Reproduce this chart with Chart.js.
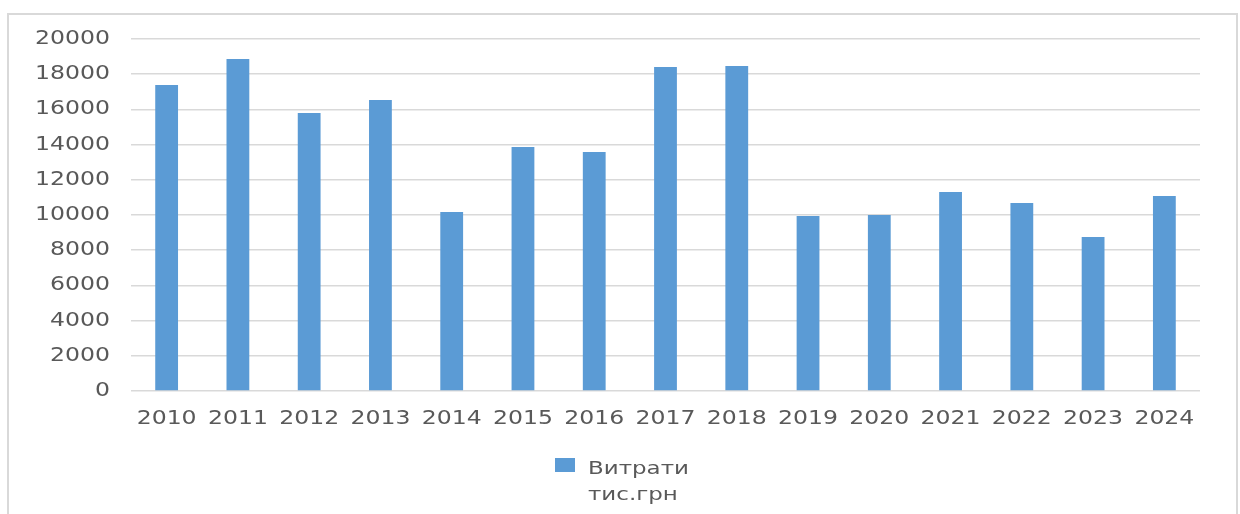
<!DOCTYPE html>
<html><head><meta charset="utf-8">
<script src="https://cdn.jsdelivr.net/npm/chart.js@4/dist/chart.umd.min.js"></script>
<style>html,body{margin:0;padding:0;background:#fff}#wrap{width:1240px;height:514px;position:relative}</style>
</head><body><div id="wrap"><canvas id="c" width="1240" height="514"></canvas></div>
<script>
const categories = ['2010','2011','2012','2013','2014','2015','2016','2017','2018','2019','2020','2021','2022','2023','2024'];
const expenses = [17390, 18860, 15800, 16530, 10170, 13860, 13580, 18410, 18470, 9940, 10000, 11310, 10680, 8750, 11080];
const legendLines = ['Витрати', 'тис.грн'];
const yTicks = [0, 2000, 4000, 6000, 8000, 10000, 12000, 14000, 16000, 18000, 20000];

const FONT = "'DejaVu Sans', sans-serif";
const STRETCH = 1.24;
const frameAndLegend = {
  id: 'frameAndLegend',
  beforeDraw(chart) {
    const ctx = chart.ctx;
    if (!ctx.__stretched) {
      const orig = ctx.fillText;
      ctx.fillText = function (t, x, y, mw) {
        this.save();
        this.translate(x, y);
        this.scale(STRETCH, 1);
        if (mw !== undefined) orig.call(this, t, 0, 0, mw / STRETCH); else orig.call(this, t, 0, 0);
        this.restore();
      };
      ctx.__stretched = true;
    }
    ctx.save();
    ctx.fillStyle = '#fff';
    ctx.fillRect(0, 0, chart.width, chart.height);
    ctx.strokeStyle = '#d9d9d9';
    ctx.lineWidth = 2;
    ctx.strokeRect(8, 14, 1229, 540);
    ctx.restore();
  },
  afterDraw(chart) {
    const ctx = chart.ctx;
    ctx.save();
    ctx.fillStyle = '#5b9bd5';
    ctx.fillRect(555, 458, 20, 14);
    ctx.fillStyle = '#595959';
    ctx.font = "18.5px " + FONT;
    ctx.textBaseline = 'alphabetic';
    ctx.textAlign = 'left';
    ctx.fillText(legendLines[0], 588, 474);
    ctx.fillText(legendLines[1], 588, 500);
    ctx.restore();
  }
};

new Chart(document.getElementById('c'), {
  type: 'bar',
  data: { labels: categories, datasets: [{ label: legendLines.join(' '), data: expenses, backgroundColor: '#5b9bd5', categoryPercentage: 1, barPercentage: 0.32 }] },
  options: {
    responsive: false, animation: false, devicePixelRatio: 1,
    layout: { padding: { left: 0, right: 40, top: 39, bottom: 0 } },
    plugins: { legend: { display: false }, tooltip: { enabled: false } },
    scales: {
      x: {
        grid: { display: false, drawTicks: false },
        border: { display: false },
        ticks: { color: '#595959', font: { family: FONT, size: 19 }, padding: 17, maxRotation: 0, autoSkip: false },
        afterFit(s) { s.height = 123; }
      },
      y: {
        min: 0, max: 20000,
        afterBuildTicks(s) { s.ticks = yTicks.map(v => ({ value: v })); },
        grid: { color: '#d9d9d9', lineWidth: 1.5, drawTicks: false },
        border: { display: false },
        ticks: { color: '#595959', font: { family: FONT, size: 19 }, padding: 21, callback: v => String(v) },
        afterFit(s) { s.width = 131; }
      }
    }
  },
  plugins: [frameAndLegend]
});
</script></body></html>
